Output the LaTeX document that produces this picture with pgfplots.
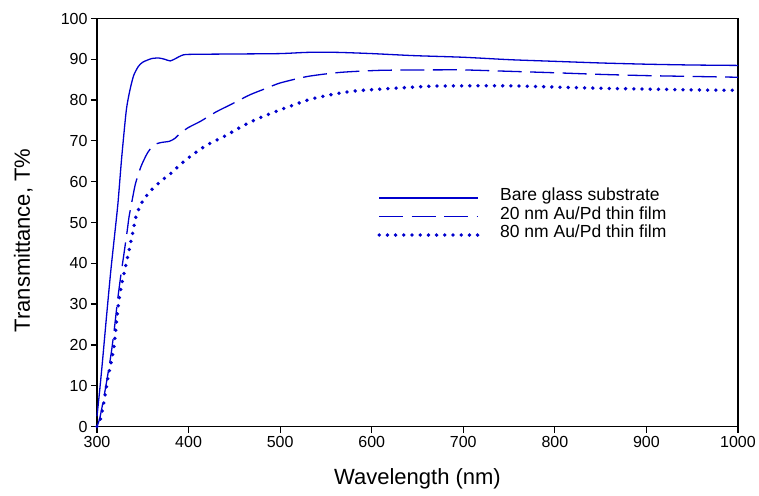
\documentclass[border=0pt]{standalone}
\usepackage{fontspec}
\setmainfont{Liberation Sans}
\usepackage{pgfplots}
\pgfplotsset{compat=1.18}

\definecolor{plotblue}{RGB}{0,0,205}

% bare glass substrate
\pgfplotstableread{
nm T
300 2.5
303 9
306 16
310 26
315 38
320 48.5
323 55
327 66
332 77.5
336 82.5
340 86
345 88.2
350 89.3
360 90.2
368 90.3
374 90.0
380 89.6
386 90.2
392 90.9
400 91.2
450 91.3
500 91.4
530 91.7
562 91.7
600 91.4
646 90.9
700 90.5
751 89.9
800 89.5
850 89.1
900 88.8
950 88.6
1000 88.5
}\bare

% 20 nm Au/Pd
\pgfplotstableread{
nm T
300 0
303 2
307 6.5
312 13
316 18.7
319.5 25
322.5 31
326 37
330 43.2
333 48
335 51.4
338 55
342 59.5
348 63.7
355 67
362 69
370 69.6
379 69.9
385 70.6
391 71.9
400 73.3
413 74.8
430 77.1
446 78.9
467 81.3
485 82.9
500 84.2
530 85.8
566 86.8
610 87.3
664 87.4
700 87.4
744 87.1
800 86.7
850 86.3
900 86.0
950 85.8
1000 85.6
}\twenty

% 80 nm Au/Pd
\pgfplotstableread{
nm T
300 0
304 2
308 6.5
312 12
318 18.7
321 25
324 31
328 36
332 40
335 43.2
339 47.5
342.5 51.4
346 53.5
350 55.3
355 56.8
360 58.1
370 60.2
381 62.1
390 64
402 66.2
420 69
439 71.1
457 73.4
475 75.4
500 77.6
530 80.0
555 81.3
580 82.2
610 82.7
664 83.4
700 83.5
751 83.5
800 83.2
850 82.9
900 82.7
950 82.5
1000 82.4
}\eighty

\begin{document}
\begin{tikzpicture}
\begin{axis}[
    scale only axis,
    width=641bp, height=408bp,
    xmin=300, xmax=1000, ymin=0, ymax=100,
    xtick={300,400,...,1000}, ytick={0,10,...,100},
    xtick pos=bottom, ytick pos=left,
    tick align=outside,
    major tick length=6bp,
    axis line style={line width=1.2bp},
    every tick/.style={black, line width=1.2bp},
    /pgf/number format/assume math mode=true,
    /pgf/number format/1000 sep={},
    tick label style={font=\fontsize{16bp}{19bp}\selectfont},
    xlabel={Wavelength (nm)},
    ylabel={Transmittance, T\%},
    label style={font=\fontsize{22bp}{26bp}\selectfont},
    xlabel style={at={(axis description cs:0.5,-0.127)}, anchor=center},
    ylabel style={at={(axis description cs:-0.115,0.456)}, anchor=center},
    clip=false,
    legend cell align=left,
    legend image code/.code={\draw[#1] (0bp,0bp) -- (99bp,0bp);},
    legend style={at={(axis description cs:0.437,0.578)}, anchor=north west,
        draw=none, fill=none, inner sep=0pt,
        font=\fontsize{17.5bp}{20bp}\selectfont,
        row sep=4bp,
        nodes={inner sep=2bp, text depth=0.25em, text height=0.8em}},
]
\addplot[plotblue, line width=1.3bp, smooth, tension=0.4] table {\bare};
\addlegendentry{\hspace{18bp}Bare glass substrate}
\addplot[plotblue, line width=1.3bp, smooth, tension=0.4,
    dash pattern=on 24bp off 8.5bp] table {\twenty};
\addlegendentry{\hspace{18bp}20 nm Au/Pd thin film}
\addplot[plotblue, line width=3.8bp, smooth, tension=0.4, line cap=round,
    dash pattern=on 0bp off 8.2bp] table {\eighty};
\addlegendentry{\hspace{18bp}80 nm Au/Pd thin film}
\end{axis}
\pgfresetboundingbox
\path[use as bounding box] ([xshift=-97bp,yshift=-69bp]current axis.south west)
    rectangle ([xshift=21bp,yshift=18.5bp]current axis.north east);
\end{tikzpicture}
\end{document}
